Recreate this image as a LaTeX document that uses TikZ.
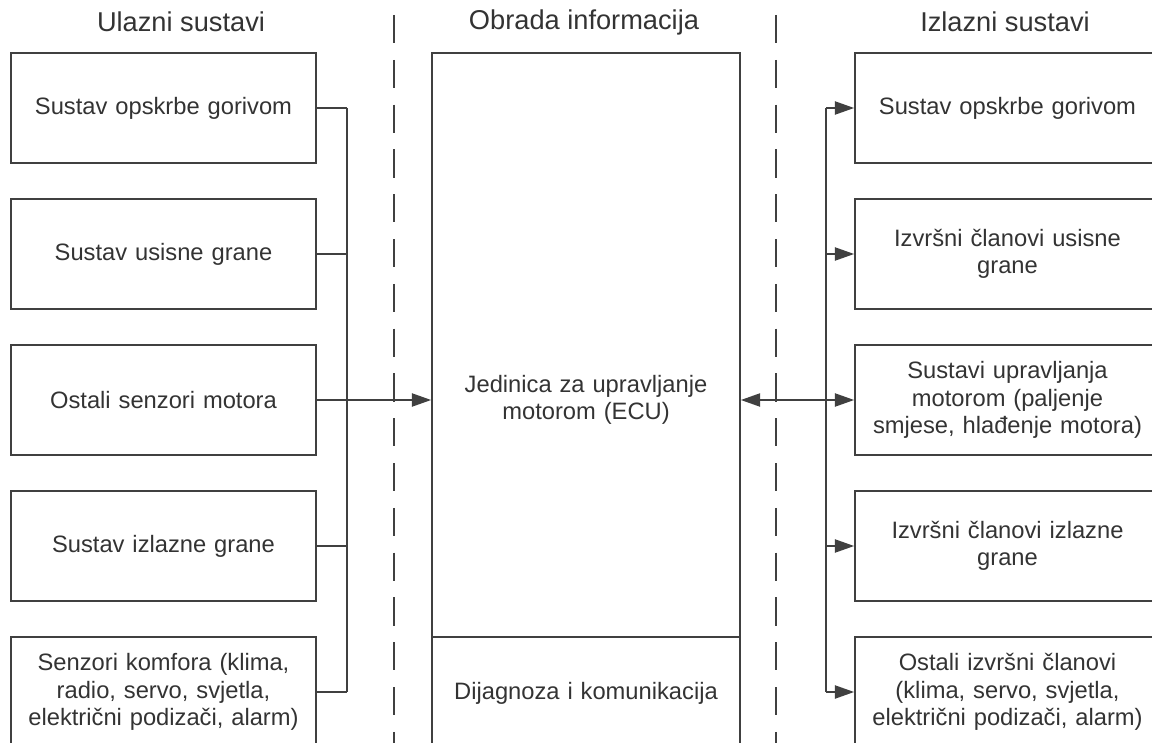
\documentclass[tikz,border=0pt]{standalone}
\usepackage{fontspec}
\setmainfont{Liberation Sans}
\usetikzlibrary{arrows.meta}

\tikzset{
  sustav/.style={draw=black!75, line width=1pt, minimum width=6.1cm, minimum height=2.2cm,
    inner sep=0pt, text width=5.9cm, align=center,
    font=\fontsize{13.5}{15.5}\selectfont, text=black!80},
  naslov/.style={font=\fontsize{15.5}{18}\selectfont, text=black!80},
  veza/.style={draw=black!75, line width=1pt},
  vrh/.tip={Triangle[length=11pt,width=7.5pt]},
  strelica/.style={veza, -vrh},
  granica/.style={draw=black!75, line width=1pt, dash pattern=on 16pt off 9.5pt}
}

\begin{document}
\begin{tikzpicture}[x=0.02cm, y=-0.02cm]
    \def\lx{163.5}
    \def\cx{586}
    \def\rx{1007.5}
    \useasboundingbox (0,0) rectangle (1152,743);
    \clip (0,0) rectangle (1152,743);

    % naslovi
    \node[naslov] (tUlaz) at (181,22) {Ulazni sustavi};
    \node[naslov] (tObrada) at (584,22) {Obrada informacija};
    \node[naslov] (tIzlaz) at (1005,22) {Izlazni sustavi};

    % granice
    \draw[granica] (394,15) -- (394,760);
    \draw[granica] (776,15) -- (776,760);

    % ulazni sustavi
    \node[sustav] (ul1) at (\lx,108) {Sustav opskrbe gorivom};
    \node[sustav] (ul2) at (\lx,254) {Sustav usisne grane};
    \node[sustav] (ul3) at (\lx,400) {Ostali senzori motora};
    \node[sustav] (ul4) at (\lx,546) {Sustav izlazne grane};
    \node[sustav] (ul5) at (\lx,692) {Senzori komfora (klima,\\radio, servo, svjetla,\\električni podizači, alarm)};

    % obrada
    \node[sustav, minimum width=6.16cm, minimum height=13.88cm] (ecu) at (\cx,400) {Jedinica za upravljanje\\motorom (ECU)};
    \coordinate (diag) at (\cx,637);
    \draw[veza] (ecu.west |- diag) -- (ecu.east |- diag);
    \node[sustav, draw=none] (dijag) at (\cx,693) {Dijagnoza i komunikacija};

    % izlazni sustavi
    \node[sustav] (iz1) at (\rx,108) {Sustav opskrbe gorivom};
    \node[sustav] (iz2) at (\rx,254) {Izvršni članovi usisne\\grane};
    \node[sustav] (iz3) at (\rx,400) {Sustavi upravljanja\\motorom (paljenje\\smjese, hlađenje motora)};
    \node[sustav] (iz4) at (\rx,546) {Izvršni članovi izlazne\\grane};
    \node[sustav] (iz5) at (\rx,692) {Ostali izvršni članovi\\(klima, servo, svjetla,\\električni podizači, alarm)};

    % lijeva sabirnica
    \coordinate (lbus) at (347,400);
    \foreach \i in {1,...,5}
        \draw[veza] (ul\i.east) -- (ul\i.east -| lbus);
    \draw[veza] (ul1.east -| lbus) -- (ul5.east -| lbus);
    \draw[strelica] (ul3.east) -- (ecu.west);

    % desna sabirnica
    \coordinate (rbus) at (826,400);
    \draw[veza] (iz1.west -| rbus) -- (iz5.west -| rbus);
    \foreach \i in {1,2,4,5}
        \draw[strelica] (iz\i.west -| rbus) -- (iz\i.west);
    \draw[veza, vrh-vrh] (ecu.east) -- (iz3.west);
\end{tikzpicture}
\end{document}
